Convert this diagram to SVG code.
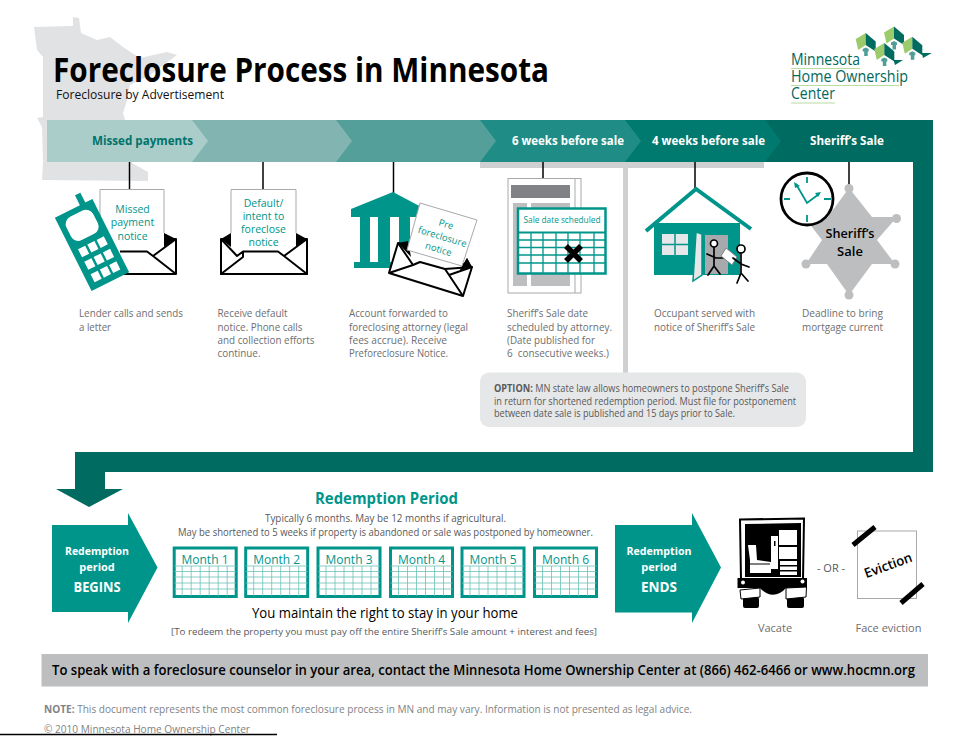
<svg xmlns="http://www.w3.org/2000/svg" xmlns:xlink="http://www.w3.org/1999/xlink" width="971" height="750" viewBox="0 0 971 750">
<style>
text{font-family:"Open Sans","Noto Sans","Liberation Sans",sans-serif}
.d{font-size:10.3px;fill:#6d6e71}
.t{fill:#00958a}
.w{fill:#fff;font-weight:700}
.c{text-anchor:middle}
.paper{fill:#fff;stroke:#a7a9ac;stroke-width:1}
.env{fill:#fff;stroke:#000;stroke-width:2;stroke-linejoin:round}
.lg{font-size:15.500px;font-weight:500;fill:#00685c}
.st{fill:none;stroke:#000;stroke-width:1.700;stroke-linecap:round}
</style>
<defs>
<g id="cal">
<rect x="0" y="0" width="62" height="48.500" fill="#fff" stroke="#00958a" stroke-width="3"/>
<path d="M0 18H62M0 23.500H62M0 29H62M0 35H62M0 41H62M8 18V48M17 18V48M26 18V48M35 18V48M44 18V48M53 18V48" fill="none" stroke="#6cc0b8" stroke-width="0.800"/>
</g>
<g id="lh">
<path d="M0 6L10 0V12L2.500 17Z" fill="#9ccb6b"/>
<path d="M10 0L20 8.500V18.500L10 12Z" fill="#006b5f"/>
<path d="M10 14.500L13 16V18.500H12V23H8.500V18.500H7V16Z" fill="#4f9f98"/>
</g>
</defs>

<g id="minnesota-map">
<path d="M34 27L73 26L73 17L79 18L81 33L97 40L110 37L123 47L132 53L140 58L167 52L177 55L150 75L130 85L127 100L123 113L125 120L132 163L148 172L148 181L42 180L43 162L42 127L37 118L43 117L43 100L43 57L37 50Z" fill="#e1e2e3"/>
</g>

<g id="title">
<text x="53" y="82" font-size="33.500" font-weight="700" fill="#000" textLength="496" lengthAdjust="spacingAndGlyphs">Foreclosure Process in Minnesota</text>
<text x="56" y="99" font-size="12.500" fill="#111" textLength="168" lengthAdjust="spacingAndGlyphs">Foreclosure by Advertisement</text>
</g>

<g id="logo">
<use xlink:href="#lh" href="#lh" x="855.700" y="33"/>
<use xlink:href="#lh" href="#lh" x="884" y="26.500"/>
<use xlink:href="#lh" href="#lh" x="902.300" y="36.700"/>
<use xlink:href="#lh" href="#lh" x="874.300" y="43"/>
<path d="M893.500 60H903L895 65ZM921.700 53H931.700L923 58Z" fill="#006b5f"/>
<path d="M791 68.500H860M791 85.500H899M791 103H835" stroke="#b9dca0" stroke-width="1" fill="none"/>
<text x="791" y="65" class="lg" textLength="69" lengthAdjust="spacingAndGlyphs">Minnesota</text>
<text x="791" y="82" class="lg" textLength="117" lengthAdjust="spacingAndGlyphs">Home Ownership</text>
<text x="791" y="99" class="lg" textLength="44" lengthAdjust="spacingAndGlyphs">Center</text>
</g>

<g id="timeline-shadow" fill="#cfd0d2">
<rect x="480" y="162" width="284" height="6"/>
<rect x="623" y="162" width="5" height="211"/>
</g>

<g id="frame-arrow">
<path d="M765 120H933V472H105V489H123L89 507L56 489H75V452H913V162H765Z" fill="#006b60"/>
</g>

<g id="band">
<path id="seg5" d="M625 120H765L781 141L765 162H625Z" fill="#00796f"/>
<path id="seg4" d="M480 120H625L641 141L625 162H480Z" fill="#1f8d85"/>
<path id="seg3" d="M336 120H480L496 141L480 162H336Z" fill="#549f9a"/>
<path id="seg2" d="M192 120H336L352 141L336 162H192Z" fill="#82b5b2"/>
<path id="seg1" d="M47 120H192L208 141L192 162H47Z" fill="#abcdca"/>
<text x="92" y="145" font-size="12.500" font-weight="700" fill="#00736a" textLength="101" lengthAdjust="spacingAndGlyphs">Missed payments</text>
<text x="512" y="145" font-size="12.500" class="w" textLength="112" lengthAdjust="spacingAndGlyphs">6 weeks before sale</text>
<text x="652" y="145" font-size="12.500" class="w" textLength="113" lengthAdjust="spacingAndGlyphs">4 weeks before sale</text>
<text x="810" y="145" font-size="12.500" class="w" textLength="74" lengthAdjust="spacingAndGlyphs">Sheriff’s Sale</text>
</g>

<g id="connectors" stroke="#000" stroke-width="1.500" fill="none">
<path d="M129.500 162V190"/>
<path d="M263 162V190"/>
<path d="M393.500 162V193"/>
<path d="M543 162V179"/>
<path d="M695 162V188"/>
<path d="M849 162V188"/>
</g>

<g id="step-missed">
<path d="M100 274H176V239L100 239Z" class="env"/>
<rect x="100" y="189.500" width="64" height="62" fill="#fff"/>
<path d="M100 225V189.500H164V233" fill="none" stroke="#a7a9ac"/>
<path d="M164 233L176 239L164 247Z" fill="#000"/>
<path d="M120 251.500H147L153 256M153 256L176 239M153 256L176 274" fill="none" stroke="#000" stroke-width="2" stroke-linejoin="round"/>
<text x="132.500" y="212.500" font-size="10.500" class="t c">Missed</text>
<text x="132.500" y="226" font-size="10.500" class="t c">payment</text>
<text x="132.500" y="240" font-size="10.500" class="t c">notice</text>
<g transform="translate(92 245) rotate(-26.600)">
<path d="M-21 -41H7V-52H13V-41H21V41H-21Z" fill="#00958a"/>
<rect x="-15" y="-35" width="30" height="26" rx="8" fill="#fff"/>
<path d="M-14.400 -2.500h8v9h-8zM-4 -2.500h8v9h-8zM6.400 -2.500h8v9h-8zM-14.400 11.500h8v9h-8zM-4 11.500h8v9h-8zM6.400 11.500h8v9h-8zM-14.400 25.500h8v9h-8zM-4 25.500h8v9h-8zM6.400 25.500h8v9h-8z" fill="#fff"/>
</g>
<text x="79" y="317" class="d" textLength="104" lengthAdjust="spacingAndGlyphs">Lender calls and sends</text>
<text x="79" y="330.500" class="d" textLength="32" lengthAdjust="spacingAndGlyphs">a letter</text>
</g>

<g id="step-default">
<path d="M221 239H307V274H221Z" class="env"/>
<path d="M221 239L231 233V247ZM307 239L296 233V247Z" fill="#000"/>
<rect x="231" y="189.500" width="65" height="62" fill="#fff"/>
<path d="M231 233V189.500H296V233" fill="none" stroke="#a7a9ac"/>
<path d="M243 251.500H278L284 256L307 274H221L243 257ZM243 251.500L237 256L221 239M284 256L307 239" fill="none" stroke="#000" stroke-width="2" stroke-linejoin="round"/>
<text x="263.500" y="207" font-size="10.500" class="t c">Default/</text>
<text x="263.500" y="220" font-size="10.500" class="t c">intent to</text>
<text x="263.500" y="233" font-size="10.500" class="t c">foreclose</text>
<text x="263.500" y="246" font-size="10.500" class="t c">notice</text>
<text x="217.500" y="317" class="d" textLength="70" lengthAdjust="spacingAndGlyphs">Receive default</text>
<text x="217.500" y="330.500" class="d" textLength="85" lengthAdjust="spacingAndGlyphs">notice. Phone calls</text>
<text x="217.500" y="343.500" class="d" textLength="97" lengthAdjust="spacingAndGlyphs">and collection efforts</text>
<text x="217.500" y="357" class="d" textLength="43" lengthAdjust="spacingAndGlyphs">continue.</text>
</g>

<g id="step-attorney">
<path d="M393 192L425 209V217H351V209ZM360 217H370V262H360ZM378 217H390V262H378ZM399 217H410V262H399ZM417 217H430V262H417ZM354 262H425V268H354Z" fill="#00958a"/>
<path d="M398 243L472 267L463 296L389 273Z" class="env"/>
<path d="M398 243L408 241L411 257ZM472 267L467 258L460 270Z" fill="#000"/>
<path d="M420 203L477 220L462 266L407 250Z" class="paper"/>
<path d="M389 273L413 265L420 262L445 269L449 275L463 296M445 269L472 267M398 243L413 265M449 275L472 267" fill="none" stroke="#000" stroke-width="2" stroke-linejoin="round"/>
<path d="M472 267L467 258L460 270Z" fill="#000"/>
<g transform="translate(442 238) rotate(17)" font-size="9.500">
<text x="0" y="-11" class="t c">Pre</text>
<text x="0" y="2" class="t c">foreclosure</text>
<text x="0" y="15" class="t c">notice</text>
</g>
<text x="349" y="317" class="d" textLength="99" lengthAdjust="spacingAndGlyphs">Account forwarded to</text>
<text x="349" y="330.500" class="d" textLength="119" lengthAdjust="spacingAndGlyphs">foreclosing attorney (legal</text>
<text x="349" y="343.500" class="d" textLength="98" lengthAdjust="spacingAndGlyphs">fees accrue). Receive</text>
<text x="349" y="357" class="d" textLength="99" lengthAdjust="spacingAndGlyphs">Preforeclosure Notice.</text>
</g>

<g id="step-scheduled">
<rect x="508" y="178.500" width="73" height="114.500" class="paper"/>
<path d="M575 178.500V293" stroke="#a7a9ac" fill="none"/>
<rect x="511" y="185" width="59" height="13" fill="#808285"/>
<rect x="513" y="203" width="14" height="83" fill="#bcbec0"/>
<rect x="531" y="203" width="39" height="83" fill="#bcbec0"/>
<rect x="518" y="208.500" width="87.500" height="65" fill="#fff" stroke="#00958a" stroke-width="2.500"/>
<path d="M518 232.500H605" stroke="#00958a" stroke-width="2" fill="none"/>
<path d="M518 240H605M518 247.500H605M518 255H605M518 263H605M531 232V273M543 232V273M556 232V273M568 232V273M580 232V273M594 232V273" stroke="#00958a" stroke-width="1.300" fill="none"/>
<path d="M566 246L581 261M581 246L566 261" stroke="#000" stroke-width="5.500" fill="none"/>
<text x="523.500" y="223" font-size="9" class="t" textLength="77" lengthAdjust="spacingAndGlyphs">Sale date scheduled</text>
<text x="507" y="317" class="d" textLength="81" lengthAdjust="spacingAndGlyphs">Sheriff’s Sale date</text>
<text x="507" y="330.500" class="d" textLength="105" lengthAdjust="spacingAndGlyphs">scheduled by attorney.</text>
<text x="507" y="343.500" class="d" textLength="88" lengthAdjust="spacingAndGlyphs">(Date published for</text>
<text x="507" y="357" class="d" textLength="102" lengthAdjust="spacingAndGlyphs">6&#160; consecutive weeks.)</text>
</g>

<g id="step-served">
<rect x="654" y="223" width="86" height="52" fill="#00958a"/>
<path d="M646 231L696 189L751 229" fill="none" stroke="#00958a" stroke-width="4"/>
<rect x="662" y="234" width="26" height="21" fill="#e6e7e8"/>
<path d="M675 234V255M662 244.500H688" stroke="#00958a" stroke-width="1.500"/>
<rect x="705" y="235" width="23" height="39" fill="#a7a9ac"/>
<path d="M696 232L702 234V275L693 281Z" fill="#e6e7e8" stroke="#00958a" stroke-width="1.500"/>
<circle cx="714" cy="243.500" r="3.500" fill="#fff" stroke="#000" stroke-width="1.700"/>
<path d="M714 247V266L708 275M714 266L720 274M707 254L716 258L725 258" class="st"/>
<path d="M726 248L737 257L732 265L721 256Z" fill="#fff" stroke="#808285"/>
<circle cx="741" cy="249" r="4" fill="#fff" stroke="#000" stroke-width="1.700"/>
<path d="M741 253V273L737 283M741 273L748 281M733 258L741 264L749 267" class="st"/>
<text x="654" y="317" class="d" textLength="101" lengthAdjust="spacingAndGlyphs">Occupant served with</text>
<text x="654" y="330.500" class="d" textLength="101" lengthAdjust="spacingAndGlyphs">notice of Sheriff’s Sale</text>
</g>

<g id="step-sale">
<path d="M849 188L872 217H897L877 240L895 264H872L849 295L827 264H806L822 240L805 218H827Z" fill="#bcbec0"/>
<circle cx="849" cy="188.500" r="4.500" fill="#bcbec0"/>
<circle cx="896.500" cy="218.500" r="4.500" fill="#bcbec0"/>
<circle cx="895" cy="264" r="4.500" fill="#bcbec0"/>
<circle cx="849" cy="295" r="4.500" fill="#bcbec0"/>
<circle cx="806" cy="264" r="4.500" fill="#bcbec0"/>
<circle cx="807" cy="199" r="26" fill="#fff" stroke="#000" stroke-width="2.800"/>
<path d="M807 177V183M807 215V222M784 199H790M824 199H831M796 184L807 203L819 194" fill="none" stroke="#00958a" stroke-width="1.800"/>
<path d="M794 182L800 186L795 188ZM821 192L815 193L818 197Z" fill="#00958a"/>
<text x="850" y="238" font-size="13" font-weight="600" fill="#000" class="c" textLength="49" lengthAdjust="spacingAndGlyphs">Sheriff’s</text>
<text x="850" y="256" font-size="13" font-weight="600" fill="#000" class="c">Sale</text>
<text x="802" y="317" class="d" textLength="81" lengthAdjust="spacingAndGlyphs">Deadline to bring</text>
<text x="802" y="330.500" class="d" textLength="81" lengthAdjust="spacingAndGlyphs">mortgage current</text>
</g>

<g id="option">
<rect x="480" y="372.500" width="326" height="54.500" rx="9" fill="#e6e7e8"/>
<text x="494" y="391.500" font-size="10" fill="#58595b" textLength="295" lengthAdjust="spacingAndGlyphs"><tspan font-weight="700">OPTION:</tspan> MN state law allows homeowners to postpone Sheriff’s Sale</text>
<text x="494" y="404.500" font-size="10" fill="#58595b" textLength="302" lengthAdjust="spacingAndGlyphs">in return for shortened redemption period. Must file for postponement</text>
<text x="494" y="416.500" font-size="10" fill="#58595b" textLength="241" lengthAdjust="spacingAndGlyphs">between date sale is published and 15 days prior to Sale.</text>
</g>

<g id="redemption-begins">
<path d="M52 525H128V513L157.500 567.500L128 623V612H52Z" fill="#00958a"/>
<text x="97" y="555" font-size="11" class="w c" textLength="64" lengthAdjust="spacingAndGlyphs">Redemption</text>
<text x="97" y="571" font-size="11" class="w c">period</text>
<text x="97" y="591.500" font-size="13.500" class="w c" textLength="47" lengthAdjust="spacingAndGlyphs">BEGINS</text>
</g>

<g id="redemption-period">
<text x="386.500" y="504" font-size="15.500" font-weight="700" class="t c" textLength="143" lengthAdjust="spacingAndGlyphs">Redemption Period</text>
<text x="385.500" y="522" font-size="10" fill="#58595b" class="c" textLength="241" lengthAdjust="spacingAndGlyphs">Typically 6 months. May be 12 months if agricultural.</text>
<text x="385.500" y="535.500" font-size="10" fill="#58595b" class="c" textLength="415" lengthAdjust="spacingAndGlyphs">May be shortened to 5 weeks if property is abandoned or sale was postponed by homeowner.</text>
<use xlink:href="#cal" href="#cal" x="174.200" y="548"/>
<use xlink:href="#cal" href="#cal" x="245.700" y="548"/>
<use xlink:href="#cal" href="#cal" x="318" y="548"/>
<use xlink:href="#cal" href="#cal" x="390.500" y="548"/>
<use xlink:href="#cal" href="#cal" x="462" y="548"/>
<use xlink:href="#cal" href="#cal" x="534.500" y="548"/>
<g font-size="12.500" class="t">
<text x="205" y="564" class="t c" textLength="47" lengthAdjust="spacingAndGlyphs">Month 1</text>
<text x="276.700" y="564" class="t c" textLength="47" lengthAdjust="spacingAndGlyphs">Month 2</text>
<text x="349" y="564" class="t c" textLength="47" lengthAdjust="spacingAndGlyphs">Month 3</text>
<text x="421.500" y="564" class="t c" textLength="47" lengthAdjust="spacingAndGlyphs">Month 4</text>
<text x="493" y="564" class="t c" textLength="47" lengthAdjust="spacingAndGlyphs">Month 5</text>
<text x="565.500" y="564" class="t c" textLength="47" lengthAdjust="spacingAndGlyphs">Month 6</text>
</g>
<text x="385" y="617.500" font-size="14" fill="#000" class="c" textLength="266" lengthAdjust="spacingAndGlyphs">You maintain the right to stay in your home</text>
<text x="384" y="635" font-size="9.500" fill="#58595b" class="c" textLength="426" lengthAdjust="spacingAndGlyphs">[To redeem the property you must pay off the entire Sheriff’s Sale amount + interest and fees]</text>
</g>

<g id="redemption-ends">
<path d="M615 525H692V513L721 567.500L692 623V612.500H615Z" fill="#00958a"/>
<text x="659" y="555" font-size="11" class="w c" textLength="65" lengthAdjust="spacingAndGlyphs">Redemption</text>
<text x="659" y="571" font-size="11" class="w c">period</text>
<text x="659" y="591.500" font-size="13.500" class="w c" textLength="36" lengthAdjust="spacingAndGlyphs">ENDS</text>
</g>

<g id="vacate">
<path d="M740 519.500L804 518.500L803 580H741Z" fill="#fff" stroke="#000" stroke-width="2"/>
<path d="M745 524L801 523V577H745Z" fill="#000"/>
<path d="M779 530H797V545H779ZM779 547H797V559H779ZM780 561H797V565H780ZM780 566.500H797V570H780ZM780 571.500H797V575H780Z" fill="#fff"/>
<rect x="771" y="536" width="7" height="33" fill="#fff"/>
<rect x="774" y="541" width="1.500" height="5" fill="#000"/>
<path d="M748 545L756 545L757 560L771 562L771 573L750 573L750 560Z" fill="#fff"/>
<path d="M750 564H770" stroke="#000"/>
<path d="M737.500 578H807V588L786 588C778 597 768 597 760 588H737.500Z" fill="#000"/>
<circle cx="743" cy="582.500" r="2" fill="#fff"/>
<circle cx="802.500" cy="581.500" r="2" fill="#fff"/>
<rect x="743" y="597" width="16" height="11" rx="2" fill="#000"/>
<rect x="787" y="597" width="17" height="11" rx="2" fill="#000"/>
<path d="M740 590L760 588V597L741 599ZM786 588L806.500 587L806 597L786 599Z" fill="#fff" stroke="#000" stroke-width="1"/>
<text x="775" y="632" font-size="11" fill="#6d6e71" class="c">Vacate</text>
</g>

<text id="or-label" x="831" y="572" font-size="11" fill="#58595b" class="c">- OR -</text>

<g id="eviction">
<rect x="857.500" y="531" width="59" height="67.500" fill="#fff" stroke="#a7a9ac" stroke-width="1"/>
<path d="M853 545L875 527M901 603L923 584" stroke="#000" stroke-width="5" fill="none"/>
<text x="888" y="570" font-size="13.500" font-weight="600" fill="#000" class="c" transform="rotate(-20 888 565)" textLength="50" lengthAdjust="spacingAndGlyphs">Eviction</text>
<text x="888.500" y="632" font-size="11" fill="#6d6e71" class="c">Face eviction</text>
</g>

<g id="contact-bar">
<rect x="41.500" y="654" width="886.500" height="32.500" fill="#bcbec0"/>
<text x="52" y="675" font-size="13.500" font-weight="600" fill="#000" textLength="863" lengthAdjust="spacingAndGlyphs">To speak with a foreclosure counselor in your area, contact the Minnesota Home Ownership Center at (866) 462-6466 or www.hocmn.org</text>
</g>

<g id="footer">
<text x="44" y="713" font-size="10" fill="#808285" textLength="648" lengthAdjust="spacingAndGlyphs"><tspan font-weight="700">NOTE:</tspan> This document represents the most common foreclosure process in MN and may vary. Information is not presented as legal advice.</text>
<text x="44" y="733" font-size="10" fill="#808285" textLength="206" lengthAdjust="spacingAndGlyphs">© 2010 Minnesota Home Ownership Center</text>
<path d="M0 734.500H277" stroke="#000" stroke-width="1.300"/>
</g>
</svg>
